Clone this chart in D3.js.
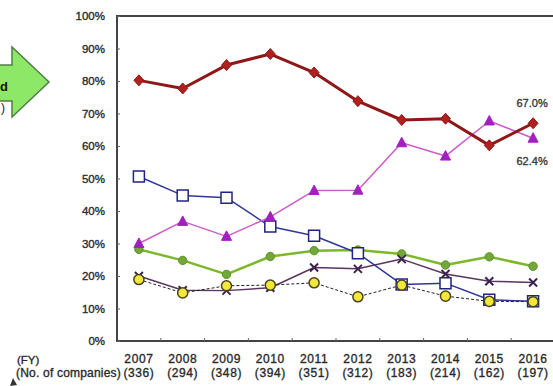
<!DOCTYPE html>
<html>
<head>
<meta charset="utf-8">
<script src="https://cdn.jsdelivr.net/npm/d3@7"></script>
<style>
  body { margin: 0; background: #fff; }
  svg { display: block; font-family: "Liberation Sans", Arial, sans-serif; }
</style>
</head>
<body>
<div id="chart"></div>
<script>
const years = ['2007', '2008', '2009', '2010', '2011', '2012', '2013', '2014', '2015', '2016'];
const companies = ['(336)', '(294)', '(348)', '(394)', '(351)', '(312)', '(183)', '(214)', '(162)', '(197)'];
const yTicks = [0, 10, 20, 30, 40, 50, 60, 70, 80, 90, 100];

const redValues = [80.2, 77.7, 84.9, 88.3, 82.6, 73.8, 68.0, 68.4, 60.2, 67.0];
const magentaValues = [30.0, 36.8, 32.2, 38.2, 46.3, 46.4, 61.0, 56.9, 67.7, 62.4];
const blueValues = [50.6, 44.8, 44.1, 35.2, 32.4, 27.0, 17.4, 17.8, 12.7, 12.2];
const greenValues = [28.2, 24.8, 20.5, 26.0, 27.8, 28.0, 26.8, 23.4, 25.9, 23.0];
const crossValues = [20.0, 15.6, 15.5, 16.4, 22.6, 22.2, 25.2, 20.6, 18.4, 18.0];
const yellowValues = [18.9, 14.8, 17.0, 17.2, 17.9, 13.6, 17.2, 13.8, 12.2, 12.1];

const width = 553, height = 386;
const svg = d3.select('#chart').append('svg')
  .attr('width', width)
  .attr('height', height)
  .attr('viewBox', `0 0 ${width} ${height}`);

const x = d3.scaleBand().domain(years).range([117, 555]);
const y = d3.scaleLinear().domain([0, 100]).range([341, 16]);
const cx = d => x(d) + x.bandwidth() / 2;

// text in the picture is heavy and soft, thicken it a bit
const heavy = sel => sel.attr('stroke', '#333').attr('stroke-width', 0.35);

// cropped pieces of the neighbouring figure on the left
svg.append('path')
  .attr('d', 'M-2,65 L12,65 L12,47 L49,82 L12,117 L12,101 L-2,101 Z')
  .attr('fill', '#8ee868')
  .attr('stroke', '#4f7f45')
  .attr('stroke-width', 1.5);
svg.append('text').attr('x', 0).attr('y', 91)
  .attr('font-size', 13).attr('font-weight', 'bold').attr('fill', '#111').text('d');
svg.append('text').attr('x', 1).attr('y', 112)
  .attr('font-size', 12).attr('fill', '#222').text(')');
svg.append('path')
  .attr('d', 'M10,386 L13,378 L17,385 Z')
  .attr('fill', '#333');

// frame
svg.append('path')
  .attr('d', `M${x.range()[1]},${y(100)} H117 V${y(0)} H${x.range()[1]}`)
  .attr('fill', 'none')
  .attr('stroke', '#444')
  .attr('stroke-width', 2);

// y axis
const yAxis = svg.append('g')
  .attr('transform', 'translate(117,0)')
  .call(d3.axisLeft(y).tickValues(yTicks).tickSize(-3).tickPadding(12).tickFormat(d => d + '%'));
yAxis.select('.domain').remove();
yAxis.selectAll('line').attr('stroke', '#666');
yAxis.selectAll('text')
  .attr('font-size', 11.5)
  .attr('fill', '#222')
  .attr('font-family', '"Liberation Sans", Arial, sans-serif')
  .call(heavy);

// x axis
const xAxis = svg.append('g')
  .attr('transform', `translate(0,${y(0)})`)
  .call(d3.axisBottom(x).tickSize(0).tickPadding(13));
xAxis.select('.domain').remove();
xAxis.selectAll('text')
  .attr('font-size', 12)
  .attr('fill', '#222')
  .attr('letter-spacing', 0.6)
  .attr('font-family', '"Liberation Sans", Arial, sans-serif')
  .call(heavy);

svg.append('g').selectAll('line')
  .data(years.slice(1))
  .join('line')
  .attr('x1', d => x(d)).attr('x2', d => x(d))
  .attr('y1', y(0)).attr('y2', y(0) - 3)
  .attr('stroke', '#666');

svg.append('g').selectAll('text')
  .data(companies)
  .join('text')
  .attr('x', (d, i) => cx(years[i]))
  .attr('y', 377)
  .attr('text-anchor', 'middle')
  .attr('font-size', 12)
  .attr('letter-spacing', 0.6)
  .attr('fill', '#222')
  .call(heavy)
  .text(d => d);

svg.append('text').attr('x', 17).attr('y', 364)
  .attr('font-size', 11.5).attr('fill', '#222').call(heavy).text('(FY)');
svg.append('text').attr('x', 121).attr('y', 377)
  .attr('text-anchor', 'end')
  .attr('font-size', 12).attr('letter-spacing', 0.2)
  .attr('fill', '#222').call(heavy).text('(No. of companies)');

const line = d3.line().x((d, i) => cx(years[i])).y(d => y(d));

function drawSeries(values, opts) {
  const g = svg.append('g');
  g.append('path')
    .attr('d', line(values))
    .attr('fill', 'none')
    .attr('stroke', opts.stroke)
    .attr('stroke-width', opts.width)
    .attr('stroke-dasharray', opts.dash || null)
    .attr('stroke-linejoin', 'round');
  g.selectAll('path.marker')
    .data(values)
    .join('path')
    .attr('class', 'marker')
    .attr('transform', (d, i) => `translate(${cx(years[i])},${y(d)})`)
    .attr('d', opts.marker)
    .attr('fill', opts.fill)
    .attr('stroke', opts.markerStroke)
    .attr('stroke-width', opts.markerWidth);
}

const diamond = 'M0,-5.5 L5,0 L0,5.5 L-5,0 Z';
const triangle = 'M0,-5.5 L5,4 L-5,4 Z';
const square = 'M-5.5,-5.5 H5.5 V5.5 H-5.5 Z';
const circle = d3.symbol(d3.symbolCircle, 55)();
const bigCircle = d3.symbol(d3.symbolCircle, 80)();
const cross = 'M-4,-4 L4,4 M4,-4 L-4,4';

drawSeries(greenValues, {stroke: '#7cb82a', width: 2.5, marker: circle, fill: '#72a83a', markerStroke: '#5d8f2a', markerWidth: 1});
drawSeries(crossValues, {stroke: '#5a3560', width: 1.5, marker: cross, fill: 'none', markerStroke: '#3d2250', markerWidth: 2});
drawSeries(blueValues, {stroke: '#2e3896', width: 1.5, marker: square, fill: '#fff', markerStroke: '#1f2580', markerWidth: 1.5});
drawSeries(yellowValues, {stroke: '#222', width: 1, dash: '3,2', marker: bigCircle, fill: '#f3e83a', markerStroke: '#4a4220', markerWidth: 1.5});
drawSeries(magentaValues, {stroke: '#cc5cc8', width: 1.5, marker: triangle, fill: '#a21fc0', markerStroke: '#a21fc0', markerWidth: 1});
drawSeries(redValues, {stroke: '#8e1818', width: 3, marker: diamond, fill: '#b0201e', markerStroke: '#8e1818', markerWidth: 1});

const last = years[years.length - 1];
svg.append('text')
  .attr('x', cx(last) - 1).attr('y', y(redValues[redValues.length - 1]) - 16)
  .attr('text-anchor', 'middle')
  .attr('font-size', 11).attr('fill', '#2a4a4a').call(heavy)
  .text(redValues[redValues.length - 1].toFixed(1) + '%');
svg.append('text')
  .attr('x', cx(last) - 1).attr('y', y(magentaValues[magentaValues.length - 1]) + 27)
  .attr('text-anchor', 'middle')
  .attr('font-size', 11).attr('fill', '#2a4a4a').call(heavy)
  .text(magentaValues[magentaValues.length - 1].toFixed(1) + '%');
</script>
</body>
</html>
